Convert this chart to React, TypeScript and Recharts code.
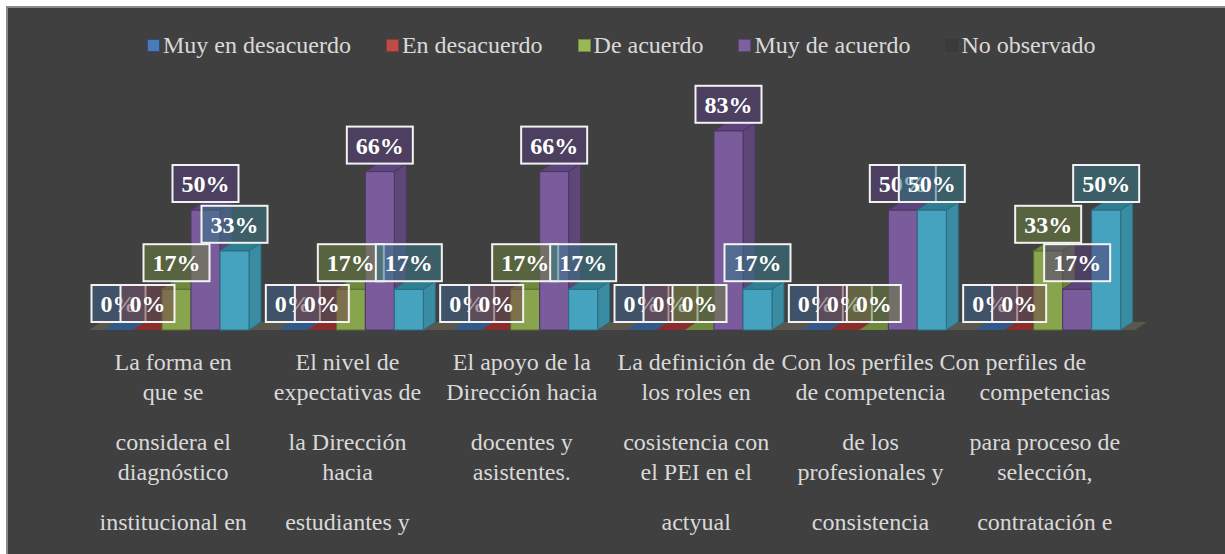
import { BarChart, Bar, XAxis, YAxis, CartesianGrid, Legend, LabelList } from "recharts";

const categories = [
  "La forma en\nque se\n\nconsidera el\ndiagnóstico\n\ninstitucional en",
  "El nivel de\nexpectativas de\n\nla Dirección\nhacia\n\nestudiantes y",
  "El apoyo de la\nDirección hacia\n\ndocentes y\nasistentes.",
  "La definición de\nlos roles en\n\ncosistencia con\nel PEI en el\n\nactyual",
  "Con los perfiles\nde competencia\n\nde los\nprofesionales y\n\nconsistencia",
  "Con perfiles de\ncompetencias\n\npara proceso de\nselección,\n\ncontratación e",
];

const seriesNames = ["Muy en desacuerdo", "En desacuerdo", "De acuerdo", "Muy de acuerdo", "No observado"];

const muyEnDesacuerdo = [0, 0, 0, 0, 0, 0];
const enDesacuerdo = [0, 0, 0, 0, 0, 0];
const deAcuerdo = [17, 17, 17, 0, 0, 33];
const muyDeAcuerdo = [50, 66, 66, 83, 50, 17];
const noObservado = [33, 17, 17, 17, 50, 50];

const seriesValues = [muyEnDesacuerdo, enDesacuerdo, deAcuerdo, muyDeAcuerdo, noObservado];

const data = categories.map((name, i) => {
  const row: Record<string, string | number> = { name };
  seriesValues.forEach((vals, s) => (row["s" + s] = vals[i]));
  return row;
});

// colours for the 3d faces: front, top, side, edge, label box, legend marker, marker border
const palette = [
  { front: "#4a7ab5", top: "#32598a", side: "#365e8e", edge: "#2c4d75", box: "#3e6088", mark: "#4a7ab8", markEdge: "#2c4d75" },
  { front: "#b04a47", top: "#8a2d2c", side: "#84383a", edge: "#6e2c2a", box: "#74464e", mark: "#be4b48", markEdge: "#8c3836" },
  { front: "#88a44c", top: "#6e8a3a", side: "#6a8238", edge: "#5a6e30", box: "#6c8040", mark: "#98b954", markEdge: "#71893f" },
  { front: "#7a5c9c", top: "#5e447c", side: "#5e4679", edge: "#4a3663", box: "#563e78", mark: "#7d60a0", markEdge: "#5c4776" },
  { front: "#46a3bf", top: "#2f7f93", side: "#3a8ca3", edge: "#2b6d80", box: "#367686", mark: "#3a3a3a", markEdge: "#3a3a3a" },
];

// excel squeezed the first line of the last two labels to the left
const firstLineShift = [0, 0, 0, 0, -13, -32];

const DX = 12;
const DY = 8;
const FONT = '"Liberation Serif", "Times New Roman", serif';

const Box3D = (props: any) => {
  const { x, y, width, height, s } = props;
  const c = palette[s];
  const h = Math.max(0, height || 0);
  const top = `${x},${y} ${x + DX},${y - DY} ${x + width + DX},${y - DY} ${x + width},${y}`;
  const side = `${x + width},${y} ${x + width + DX},${y - DY} ${x + width + DX},${y + h - DY} ${x + width},${y + h}`;
  return (
    <g>
      {h > 0 && <polygon points={side} fill={c.side} stroke={c.edge} strokeWidth={1} />}
      {h > 0 && <rect x={x} y={y} width={width} height={h} fill={c.front} stroke={c.edge} strokeWidth={1} />}
      <polygon points={top} fill={c.top} stroke={c.edge} strokeWidth={h > 0 ? 1 : 0} />
    </g>
  );
};

const Floor = (p: any) => {
  const { x1, x2, y1 } = p;
  return (
    <polygon
      key={p.key}
      points={`${x1},${y1} ${x2},${y1} ${x2 + DX},${y1 - DY} ${x1 + DX},${y1 - DY}`}
      fill="#5a574d"
    />
  );
};

const renderLabel = (s: number) => (p: any) => {
  const { x, y, width, value } = p;
  const txt = `${value}%`;
  const w = String(value).length * 12 + 24 + 18;
  const cx = x + width / 2;
  const bottom = y - 8;
  return (
    <g>
      <rect x={cx - w / 2} y={bottom - 37} width={w} height={37} fill={palette[s].box} fillOpacity={0.55} stroke="#f2f2f2" strokeWidth={2} />
      <text x={cx} y={bottom - 10} textAnchor="middle" fill="#ffffff" fontWeight="bold" fontSize={24} fontFamily={FONT}>
        {txt}
      </text>
    </g>
  );
};

const CategoryTick = (p: any) => {
  const { x, y, payload, index } = p;
  const groups = String(payload.value).split("\n\n");
  return (
    <g>
      {groups.map((g, gi) =>
        g.split("\n").map((line, li) => (
          <text
            key={gi + "-" + li}
            x={x - 3 + (gi === 0 && li === 0 ? firstLineShift[index] || 0 : 0)}
            y={y + 40 + gi * 80 + li * 30}
            textAnchor="middle"
            fill="#d9d9d9"
            fontSize={24}
            fontFamily={FONT}
          >
            {line}
          </text>
        ))
      )}
    </g>
  );
};

const renderLegend = () => (
  <div style={{ display: "flex", alignItems: "center", paddingLeft: 139, fontFamily: FONT, fontSize: 24, color: "#d9d9d9", lineHeight: "28px" }}>
    {seriesNames.map((n, i) => (
      <div key={n} style={{ display: "flex", alignItems: "center", marginRight: 35 }}>
        <span
          style={{
            display: "inline-block",
            width: 11,
            height: 11,
            background: palette[i].mark,
            border: `1.5px solid ${palette[i].markEdge}`,
            marginRight: 3,
          }}
        />
        <span>{n}</span>
      </div>
    ))}
  </div>
);

export default function App() {
  return (
    <div
      style={{
        position: "absolute",
        left: 6,
        top: 6,
        width: 1219,
        height: 548,
        boxSizing: "border-box",
        borderTop: "2px solid #8a8a8a",
        borderLeft: "2px solid #8a8a8a",
        background: "#404040",
        overflow: "hidden",
      }}
    >
      <BarChart
        width={1217}
        height={546}
        data={data}
        margin={{ top: 82, right: 90, bottom: 0, left: 81 }}
        barGap={0}
        barSize={29}
      >
        <CartesianGrid vertical={false} horizontalValues={[0]} horizontal={(p: any) => <Floor {...p} />} />
        <XAxis
          dataKey="name"
          height={224}
          axisLine={false}
          tickLine={false}
          tickSize={0}
          tickMargin={0}
          interval={0}
          tick={<CategoryTick />}
        />
        <YAxis hide domain={[0, 100]} />
        <Legend
          layout="horizontal"
          verticalAlign="middle"
          align="center"
          content={renderLegend}
          wrapperStyle={{ top: 23, left: 0, width: 1217 }}
        />
        {seriesNames.map((n, s) => (
          <Bar key={n} dataKey={"s" + s} name={n} isAnimationActive={false} shape={(p: any) => <Box3D {...p} s={s} />}>
            <LabelList dataKey={"s" + s} content={renderLabel(s)} />
          </Bar>
        ))}
      </BarChart>
    </div>
  );
}
